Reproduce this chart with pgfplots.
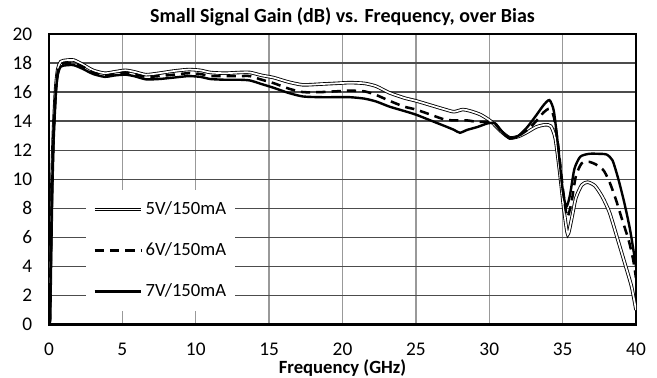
\documentclass[border=0pt]{standalone}
\usepackage{fontspec}
\setmainfont{Carlito}
\usepackage{pgfplots}
\usetikzlibrary{calc}
\pgfplotsset{compat=1.18}
\pgfplotstableread{
f g
0.05 0.2
0.12 5
0.2 9.6
0.3 13.2
0.45 16.2
0.6 17.6
0.8 18.1
1.2 18.2
1.7 18.2
2.3 17.9
3.0 17.5
3.8 17.3
4.5 17.4
5.2 17.5
5.8 17.4
6.6 17.2
7.5 17.3
8.5 17.45
9.5 17.55
10.3 17.5
11.0 17.35
12.0 17.3
13.0 17.35
13.7 17.35
14.5 17.15
15.3 17.0
16.3 16.7
17.3 16.5
18.5 16.55
19.5 16.6
20.5 16.65
21.5 16.6
22.3 16.4
23.2 15.95
24.2 15.6
25.0 15.4
26.0 15.1
27.0 14.8
27.6 14.65
28.2 14.8
28.7 14.7
29.4 14.45
30.1 14.0
30.8 13.3
31.4 12.85
32.0 12.95
32.6 13.25
33.2 13.6
33.8 13.75
34.2 13.65
34.5 12.8
34.8 10.5
35.1 7.8
35.35 6.2
35.6 7.2
35.9 8.7
36.3 9.6
36.7 9.8
37.2 9.55
37.7 8.8
38.2 7.7
38.8 5.7
39.3 4.0
39.7 2.6
40.0 1.0
}\fivev
\pgfplotstableread{
f g
0.05 0.1
0.12 4.5
0.2 9.2
0.3 12.9
0.45 16.0
0.6 17.4
0.8 17.9
1.2 18.0
1.7 18.0
2.3 17.75
3.0 17.35
3.8 17.15
4.5 17.25
5.2 17.35
5.8 17.25
6.6 17.05
7.5 17.1
8.5 17.2
9.5 17.3
10.3 17.25
11.0 17.1
12.0 17.1
13.0 17.1
13.7 17.1
14.5 16.85
15.3 16.62
16.3 16.25
17.3 16.0
18.5 16.0
19.5 16.05
20.5 16.1
21.5 16.05
22.3 15.8
23.2 15.4
24.2 15.0
25.0 14.8
26.0 14.45
27.0 14.1
27.8 14.05
28.5 14.05
29.2 13.95
29.9 13.95
30.4 13.8
30.9 13.2
31.4 12.85
32.0 13.0
32.6 13.4
33.2 14.0
33.7 14.6
34.1 14.85
34.4 14.3
34.7 12.3
35.0 9.5
35.3 7.4
35.6 8.4
35.9 10.2
36.3 11.1
36.8 11.2
37.3 11.0
37.8 10.6
38.2 9.8
38.6 8.7
39.0 7.4
39.5 5.8
39.8 4.5
40.0 3.2
}\sixv
\pgfplotstableread{
f g
0.05 0
0.12 4
0.2 8.8
0.3 12.6
0.45 15.8
0.6 17.2
0.8 17.75
1.2 17.85
1.7 17.85
2.3 17.6
3.0 17.25
3.8 17.05
4.5 17.15
5.2 17.2
5.8 17.1
6.6 16.88
7.5 16.9
8.5 17.0
9.5 17.1
10.3 17.05
11.0 16.9
12.0 16.85
13.0 16.85
13.7 16.8
14.5 16.55
15.3 16.3
16.3 15.95
17.3 15.7
18.5 15.65
19.5 15.65
20.5 15.65
21.5 15.55
22.3 15.35
23.2 15.0
24.2 14.7
25.0 14.45
26.0 14.05
27.0 13.65
27.6 13.4
28.0 13.2
28.5 13.4
29.2 13.6
29.9 13.85
30.4 13.85
30.9 13.25
31.4 12.8
32.0 13.0
32.6 13.6
33.2 14.4
33.7 15.1
34.1 15.45
34.4 14.7
34.7 12.2
35.0 9.3
35.25 8.1
35.5 8.9
35.8 10.7
36.2 11.55
36.8 11.75
37.5 11.75
38.0 11.7
38.4 11.3
38.8 10.0
39.2 8.4
39.6 6.5
40.0 4.0
}\sevenv
\begin{document}
\begin{tikzpicture}
\begin{axis}[
  name=ax,
  scale only axis,
  width=440.25pt, height=217.9pt,
  xmin=0, xmax=40, ymin=0, ymax=20,
  xtick={0,5,...,40}, ytick={0,2,...,20},
  major tick length=0pt,
  axis line style={line width=2.2pt, black},
  grid=major,
  x grid style={color=black!40, line width=1pt},
  y grid style={color=black!70, line width=1pt},
  /pgf/number format/assume math mode=true,
  tick label style={font=\fontsize{14.5}{16}\selectfont},
  xticklabel style={anchor=center, yshift=-18.4pt},
  yticklabel style={anchor=east, xshift=-9pt},
  xlabel={\textbf{Frequency (GHz)}},
  xlabel style={font=\fontsize{14}{16}\selectfont, at={(rel axis cs:0.5,0)}, anchor=center, yshift=-32.4pt},
  title={\textbf{Small Signal Gain (dB) vs. Frequency, over Bias}},
  title style={font=\fontsize{15}{17}\selectfont, at={(rel axis cs:0.5,1)}, anchor=center, yshift=7.2pt},
  legend image code/.code={\draw[#1] (0pt,0pt) -- (35pt,0pt);},
  legend style={at={(rel axis cs:0.063,0.046)}, anchor=south west,
    draw=none, fill=white, font=\fontsize{14}{16}\selectfont,
    row sep=15.5pt, inner xsep=5pt, inner ysep=7pt, cells={anchor=west}},
  legend cell align=left,
]
\addplot[smooth, tension=0.4, draw=black, line width=0.65pt, double=white, double distance=1.3pt] table[x=f,y=g] {\fivev};
\addlegendentry{5V/150mA}
\addplot[smooth, tension=0.4, black, line width=1.9pt, dash pattern=on 7pt off 4.5pt] table[x=f,y=g] {\sixv};
\addlegendentry{6V/150mA}
\addplot[smooth, tension=0.4, black, line width=1.8pt] table[x=f,y=g] {\sevenv};
\addlegendentry{7V/150mA}
\end{axis}
\pgfresetboundingbox
\path ($(ax.south west)+(-36.75pt,-39.4pt)$) rectangle ($(ax.north east)+(15.75pt,25.5pt)$);
\end{tikzpicture}
\end{document}
